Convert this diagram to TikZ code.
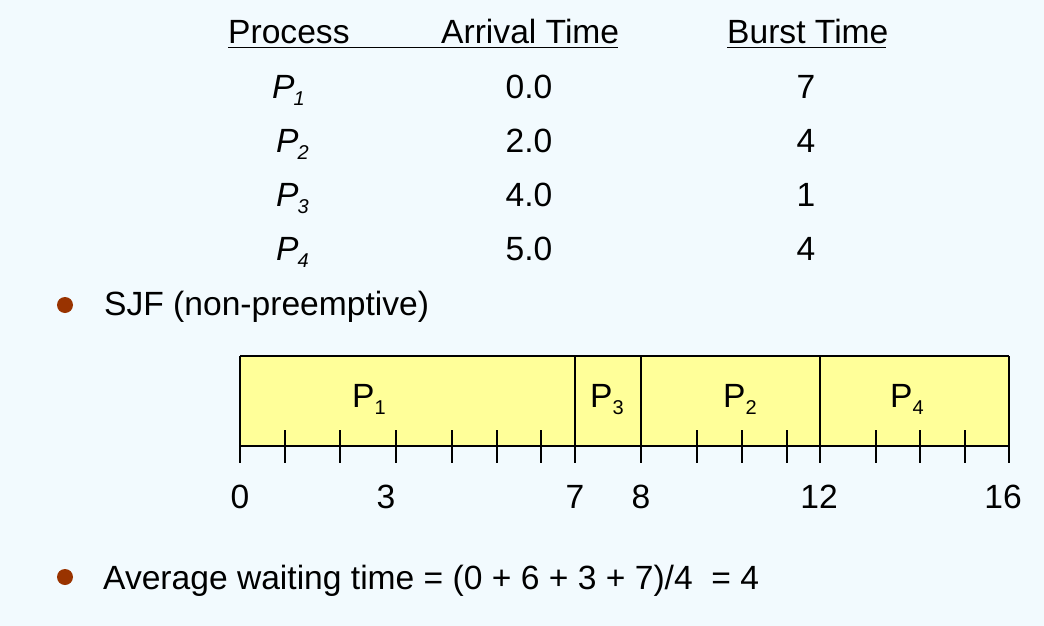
\documentclass[tikz,border=0pt]{standalone}
\usepackage{fontspec}
\setmainfont{Liberation Sans}
\definecolor{bgc}{HTML}{F2FAFE}
\definecolor{barc}{HTML}{FFFF99}
\definecolor{bulc}{HTML}{993300}
\newcommand{\Pit}[1]{{\itshape P\kern-1pt\raisebox{-7pt}{\fontsize{20}{21}\selectfont #1}}}
\newcommand{\Pup}[1]{P\raisebox{-7pt}{\fontsize{20}{21}\selectfont #1}}
\tikzset{
  txt/.style={inner sep=0pt, font=\fontsize{33.6}{40}\selectfont},
  cell/.style={txt, anchor=base},
  left/.style={txt, anchor=base west},
  bul/.style={fill=bulc},
  ul/.style={line width=1.8pt},
  gline/.style={line width=1.1pt, black},
}
\begin{document}
\begin{tikzpicture}[x=1pt,y=-1pt]
\fill[bgc] (0,0) rectangle (1044,626);
\useasboundingbox (0,0) rectangle (1044,626);
% table header
\node[left] (hproc) at (228,44) {Process};
\node[left] (harr) at (441,44) {Arrival Time};
\node[left] (hburst) at (727,44) {Burst Time};
\draw[ul] (228,47.5) -- (618,47.5);
\draw[ul] (727,47.5) -- (886,47.5);
% rows
\node[left] (p1) at (272,98) {\Pit{1}};
\node[left] (p2) at (276,152) {\Pit{2}};
\node[left] (p3) at (276,206) {\Pit{3}};
\node[left] (p4) at (276,260) {\Pit{4}};
\node[cell] (a1) at (529,98) {0.0};
\node[cell] (a2) at (529,152) {2.0};
\node[cell] (a3) at (529,206) {4.0};
\node[cell] (a4) at (529,260) {5.0};
\node[cell] (b1) at (806,98) {7};
\node[cell] (b2) at (806,152) {4};
\node[cell] (b3) at (806,206) {1};
\node[cell] (b4) at (806,260) {4};
% bullet 1
\fill[bul] (65,305) circle (8);
\node[left] (sjf) at (104,315) {SJF (non-preemptive)};
% gantt
\fill[barc] (240,356) rectangle (1009,446);
\draw[gline] (240,356) -- (1009,356);
\draw[gline] (240,446) -- (1009,446);
\foreach \x in {240,575,641,820,1009} \draw[gline] (\x,356) -- (\x,463);
\foreach \x in {285,340,396,452,497,541,697,742,787,876,920,965} \draw[gline] (\x,430) -- (\x,463);
\node[cell] (g1) at (369,407) {\Pup{1}};
\node[cell] (g3) at (607,407) {\Pup{3}};
\node[cell] (g2) at (740,407) {\Pup{2}};
\node[cell] (g4) at (907,407) {\Pup{4}};
\node[cell] (t0) at (240,508) {0};
\node[cell] (t3) at (386,508) {3};
\node[cell] (t7) at (575,508) {7};
\node[cell] (t8) at (641,508) {8};
\node[cell] (t12) at (819,508) {12};
\node[cell] (t16) at (1003,508) {16};
% bullet 2
\fill[bul] (65,577) circle (8);
\node[left] (avg) at (103,589) {Average waiting time = (0 + 6 + 3 + 7)/4 \ = 4};
\end{tikzpicture}
\end{document}
